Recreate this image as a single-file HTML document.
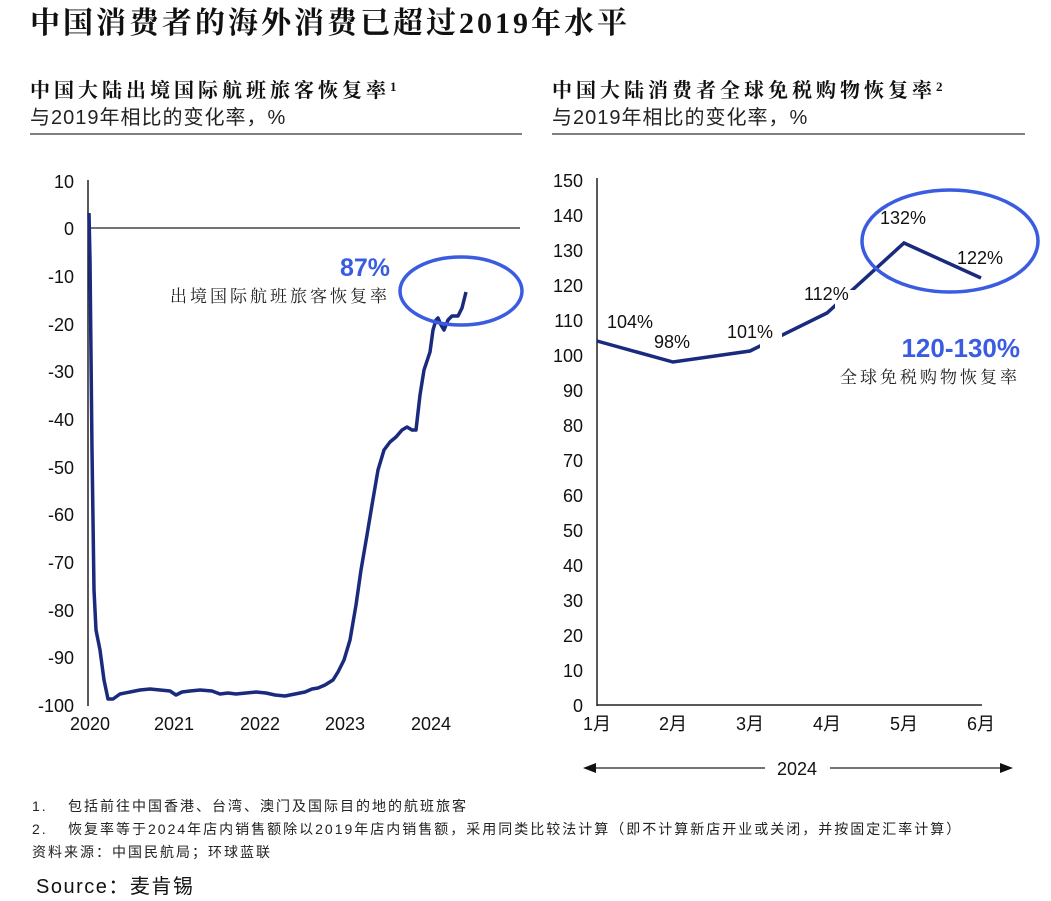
<!DOCTYPE html>
<html><head><meta charset="utf-8"><style>
body{margin:0;background:#fff;width:1051px;height:901px;overflow:hidden;font-family:"Liberation Sans","Noto Sans CJK SC",sans-serif}
svg{position:absolute;left:0;top:0}
</style></head><body>
<svg width="1051" height="901" viewBox="0 0 1051 901">
<g font-family="'Liberation Serif','Noto Serif CJK SC',serif" font-weight="bold" fill="#111">
<text x="30" y="33" font-size="30" letter-spacing="3">中国消费者的海外消费已超过2019年水平</text>
<text x="30" y="97" font-size="20" letter-spacing="4">中国大陆出境国际航班旅客恢复率<tspan font-size="13" dy="-6">1</tspan></text>
<text x="552" y="97" font-size="20" letter-spacing="4">中国大陆消费者全球免税购物恢复率<tspan font-size="13" dy="-6">2</tspan></text>
</g>
<g font-size="20" fill="#222" letter-spacing="1">
<text x="30" y="124">与2019年相比的变化率，%</text>
<text x="552" y="124">与2019年相比的变化率，%</text>
</g>
<line x1="30" y1="134" x2="522" y2="134" stroke="#333" stroke-width="1.2"/>
<line x1="552" y1="134" x2="1025" y2="134" stroke="#333" stroke-width="1.2"/>

<!-- left chart -->
<g font-size="18" fill="#111" text-anchor="end">
<text x="74" y="188">10</text><text x="74" y="235">0</text><text x="74" y="283">-10</text><text x="74" y="331">-20</text><text x="74" y="378">-30</text><text x="74" y="426">-40</text><text x="74" y="474">-50</text><text x="74" y="521">-60</text><text x="74" y="569">-70</text><text x="74" y="617">-80</text><text x="74" y="664">-90</text><text x="74" y="712">-100</text>
</g>
<line x1="88" y1="180" x2="88" y2="706" stroke="#222" stroke-width="1.5"/>
<line x1="88" y1="228" x2="520" y2="228" stroke="#222" stroke-width="1.2"/>
<g font-size="18" fill="#111" text-anchor="middle">
<text x="90" y="730">2020</text><text x="174" y="730">2021</text><text x="260" y="730">2022</text><text x="345" y="730">2023</text><text x="431" y="730">2024</text>
</g>
<polyline fill="none" stroke="#1a2a7c" stroke-width="3.5" stroke-linejoin="round" points="89,213 90,260 92,450 94,590 96,630 100,650 104,680 108,699 113,699 120,694 130,692 140,690 150,689 160,690 170,691 176,695 182,692 190,691 200,690 212,691 220,694 228,693 236,694 246,693 256,692 266,693 275,695 285,696 295,694 305,692 312,689 318,688 325,685 333,680 338,672 344,660 350,640 356,605 361,570 367,535 372,505 378,470 384,450 390,442 396,437 402,430 407,427 412,430 416,430 420,395 424,370 430,352 433,330 436,320 438,318 441,325 444,330 448,320 452,316 458,316 462,308 466,292"/>
<ellipse cx="461" cy="291" rx="61" ry="34" fill="none" stroke="#3a5ce0" stroke-width="3.5"/>
<text x="390" y="276" font-size="25" font-weight="bold" fill="#3a5ce0" text-anchor="end">87%</text>
<text x="390" y="302" font-size="17" fill="#222" text-anchor="end" letter-spacing="3" font-family="'Liberation Serif','Noto Serif CJK SC',serif">出境国际航班旅客恢复率</text>

<!-- right chart -->
<g font-size="18" fill="#111" text-anchor="end">
<text x="583" y="187">150</text><text x="583" y="222">140</text><text x="583" y="257">130</text><text x="583" y="292">120</text><text x="583" y="327">110</text><text x="583" y="362">100</text><text x="583" y="397">90</text><text x="583" y="432">80</text><text x="583" y="467">70</text><text x="583" y="502">60</text><text x="583" y="537">50</text><text x="583" y="572">40</text><text x="583" y="607">30</text><text x="583" y="642">20</text><text x="583" y="677">10</text><text x="583" y="712">0</text>
</g>
<line x1="597" y1="178" x2="597" y2="706" stroke="#222" stroke-width="1.5"/>
<line x1="597" y1="705" x2="982" y2="705" stroke="#222" stroke-width="1.5"/>
<g font-size="18" fill="#111" text-anchor="middle">
<text x="597" y="730">1月</text><text x="673" y="730">2月</text><text x="750" y="730">3月</text><text x="827" y="730">4月</text><text x="904" y="730">5月</text><text x="981" y="730">6月</text>
</g>
<polyline fill="none" stroke="#1a2a7c" stroke-width="3.5" points="597,341 673,362 750,351 827,313 904,243 981,278"/>
<rect x="760" y="320" width="22" height="30" fill="#fff"/>
<rect x="835" y="290" width="22" height="25" fill="#fff"/>
<rect x="950" y="250" width="18" height="12" fill="#fff"/>
<g font-size="18" fill="#111">
<text x="607" y="328">104%</text><text x="654" y="348">98%</text><text x="727" y="338">101%</text><text x="804" y="300">112%</text><text x="880" y="224">132%</text><text x="957" y="264">122%</text>
</g>
<ellipse cx="950" cy="241" rx="88" ry="51" fill="none" stroke="#3a5ce0" stroke-width="3.5"/>
<text x="1020" y="357" font-size="26" font-weight="bold" fill="#3a5ce0" text-anchor="end">120-130%</text>
<text x="1020" y="383" font-size="17" fill="#222" text-anchor="end" font-family="'Liberation Serif','Noto Serif CJK SC',serif" letter-spacing="3">全球免税购物恢复率</text>

<line x1="590" y1="768" x2="765" y2="768" stroke="#222" stroke-width="1.2"/>
<line x1="830" y1="768" x2="1005" y2="768" stroke="#222" stroke-width="1.2"/>
<polygon points="583,768 596,763 596,773" fill="#111"/>
<polygon points="1013,768 1000,763 1000,773" fill="#111"/>
<text x="797" y="775" font-size="18" fill="#111" text-anchor="middle">2024</text>

<g font-size="14" fill="#222" letter-spacing="2">
<text x="32" y="811">1.</text><text x="68" y="811">包括前往中国香港、台湾、澳门及国际目的地的航班旅客</text>
<text x="32" y="834">2.</text><text x="68" y="834">恢复率等于2024年店内销售额除以2019年店内销售额，采用同类比较法计算（即不计算新店开业或关闭，并按固定汇率计算）</text>
<text x="32" y="857">资料来源：中国民航局；环球蓝联</text>
</g>
<text x="36" y="893" font-size="20" fill="#111" letter-spacing="1.5">Source：麦肯锡</text>
</svg>
</body></html>
